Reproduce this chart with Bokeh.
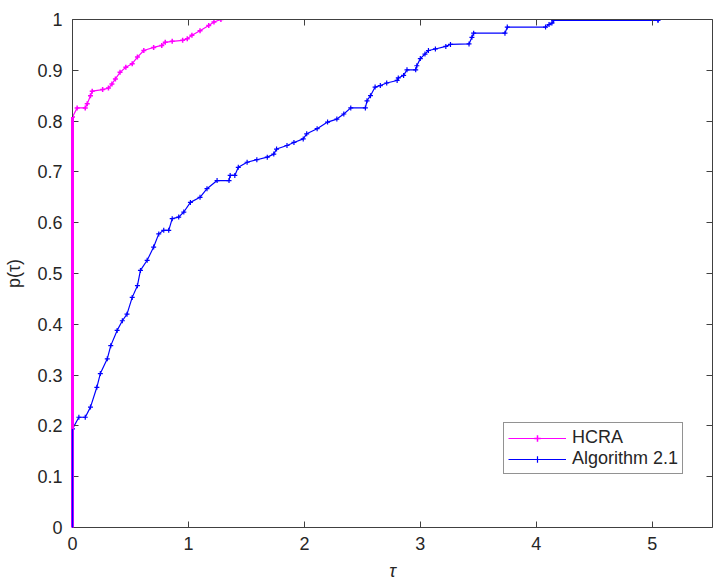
from bokeh.plotting import figure
from bokeh.models import LinearAxis, Range1d, Legend, LegendItem, FixedTicker
from bokeh.embed import file_html
from bokeh.resources import INLINE

# ---- data ----
hcra_tau = [0, 0, 0.04, 0.11, 0.127, 0.155, 0.17, 0.26, 0.31, 0.34,
            0.37, 0.41, 0.46, 0.515, 0.56, 0.615, 0.70, 0.77, 0.80, 0.86,
            0.95, 0.99, 1.03, 1.10, 1.175, 1.22, 1.28]
hcra_p = [0, 0.808, 0.826, 0.826, 0.834, 0.850, 0.859, 0.862, 0.865, 0.873,
          0.883, 0.896, 0.906, 0.913, 0.926, 0.939, 0.945, 0.949, 0.955, 0.957,
          0.959, 0.962, 0.969, 0.978, 0.988, 0.995, 1.0]

alg_tau = [0, 0, 0.055, 0.11, 0.155, 0.21, 0.24, 0.30, 0.33, 0.385,
           0.43, 0.47, 0.515, 0.56, 0.586, 0.644, 0.70, 0.744, 0.787, 0.83,
           0.86, 0.916, 0.96, 1.017, 1.10, 1.16, 1.247, 1.35, 1.36, 1.40,
           1.43, 1.506, 1.59, 1.68, 1.736, 1.76, 1.85, 1.91, 1.99, 2.02,
           2.11, 2.20, 2.28, 2.34, 2.40, 2.526, 2.54, 2.57, 2.61, 2.655,
           2.71, 2.80, 2.81, 2.856, 2.885, 2.96, 2.97, 3.0, 3.04, 3.07,
           3.13, 3.22, 3.26, 3.42, 3.445, 3.46, 3.73, 3.75, 4.08, 4.11,
           4.135, 4.15, 5.05, 5.05]
alg_p = [0, 0.194, 0.217, 0.217, 0.237, 0.276, 0.303, 0.332, 0.358, 0.388,
         0.407, 0.42, 0.453, 0.476, 0.506, 0.526, 0.552, 0.578, 0.585, 0.585,
         0.608, 0.611, 0.621, 0.640, 0.650, 0.667, 0.683, 0.683, 0.693, 0.693,
         0.709, 0.719, 0.724, 0.729, 0.735, 0.745, 0.752, 0.758, 0.765, 0.775,
         0.785, 0.798, 0.804, 0.814, 0.826, 0.826, 0.84, 0.85, 0.867, 0.87,
         0.875, 0.88, 0.885, 0.89, 0.901, 0.901, 0.909, 0.923, 0.932, 0.939,
         0.942, 0.947, 0.951, 0.952, 0.965, 0.973, 0.973, 0.985, 0.985, 0.99,
         0.993, 0.998, 0.998, 1.0]

x_ticks = [0, 1, 2, 3, 4, 5]
y_ticks = [0, 0.1, 0.2, 0.3, 0.4, 0.5, 0.6, 0.7, 0.8, 0.9, 1.0]
y_tick_labels = ["0", "0.1", "0.2", "0.3", "0.4", "0.5", "0.6", "0.7", "0.8", "0.9", "1"]
series_names = ["HCRA", "Algorithm 2.1"]

FONT = "Liberation Sans"
TXT = "#262626"
AX = "#404040"

p = figure(width=714, height=585, output_backend="svg", toolbar_location=None,
           x_range=Range1d(0, 5.52), y_range=Range1d(0, 1),
           min_border_left=72, min_border_right=2, min_border_top=19, min_border_bottom=58)
p.grid.visible = False
p.outline_line_color = None
p.background_fill_color = "white"

def style_axis(ax, labels=True):
    ax.axis_line_color = AX
    ax.major_tick_line_color = AX
    ax.major_tick_in = 6
    ax.major_tick_out = 0
    ax.minor_tick_line_color = None
    ax.major_label_text_font = FONT
    ax.major_label_text_color = TXT
    ax.major_label_text_font_size = "18px" if labels else "0px"
    ax.major_label_standoff = 10 if labels else 0
    ax.axis_label_text_font = FONT
    ax.axis_label_text_color = TXT
    ax.axis_label_text_font_style = "normal"

p.xaxis.ticker = FixedTicker(ticks=x_ticks)
p.yaxis.ticker = FixedTicker(ticks=y_ticks)
p.yaxis.major_label_overrides = {t: l for t, l in zip(y_ticks, y_tick_labels)}
style_axis(p.xaxis[0])
style_axis(p.yaxis[0])
p.xaxis.major_label_standoff = 9
p.xaxis.axis_label = "τ"
p.xaxis.axis_label_text_font_style = "italic"
p.xaxis.axis_label_text_font_size = "18px"
p.xaxis.axis_label_standoff = 8
p.yaxis.axis_label = "p(τ)"
p.yaxis.axis_label_text_font_size = "18px"
p.yaxis.axis_label_standoff = 10

top = LinearAxis(ticker=FixedTicker(ticks=x_ticks))
right = LinearAxis(ticker=FixedTicker(ticks=y_ticks))
style_axis(top, labels=False)
style_axis(right, labels=False)
top.major_label_overrides = {t: "" for t in x_ticks}
right.major_label_overrides = {t: "" for t in y_ticks}
p.add_layout(top, "above")
p.add_layout(right, "right")

# HCRA (magenta)
r1 = p.line(hcra_tau, hcra_p, line_color="#ff00ff", line_width=1.2)
r1v = p.line(hcra_tau[:2], hcra_p[:2], line_color="#ff00ff", line_width=3, level="overlay")
m1 = p.scatter(hcra_tau[1:], hcra_p[1:], marker="cross", size=5, line_color="#ff00ff", line_width=1.5)

# Algorithm 2.1 (blue)
r2 = p.line(alg_tau, alg_p, line_color="#0000ff", line_width=1.2)
r2v = p.line(alg_tau[:2], alg_p[:2], line_color="#0000ff", line_width=1.5, level="overlay")
m2 = p.scatter(alg_tau[1:], alg_p[1:], marker="cross", size=5, line_color="#0000ff", line_width=1.2)

legend = Legend(items=[LegendItem(label=series_names[0], renderers=[r1, m1]),
                       LegendItem(label=series_names[1], renderers=[r2, m2])],
                location=(431, 53))
legend.label_text_font = FONT
legend.label_text_font_size = "18px"
legend.label_text_color = TXT
legend.glyph_width = 58
legend.glyph_height = 16
legend.label_height = 16
legend.label_standoff = 6
legend.spacing = 0
legend.padding = 4
legend.margin = 0
legend.border_line_color = TXT
legend.border_line_width = 1
legend.background_fill_alpha = 1
p.add_layout(legend, "center")

open("out.html", "w").write(file_html(p, INLINE))
